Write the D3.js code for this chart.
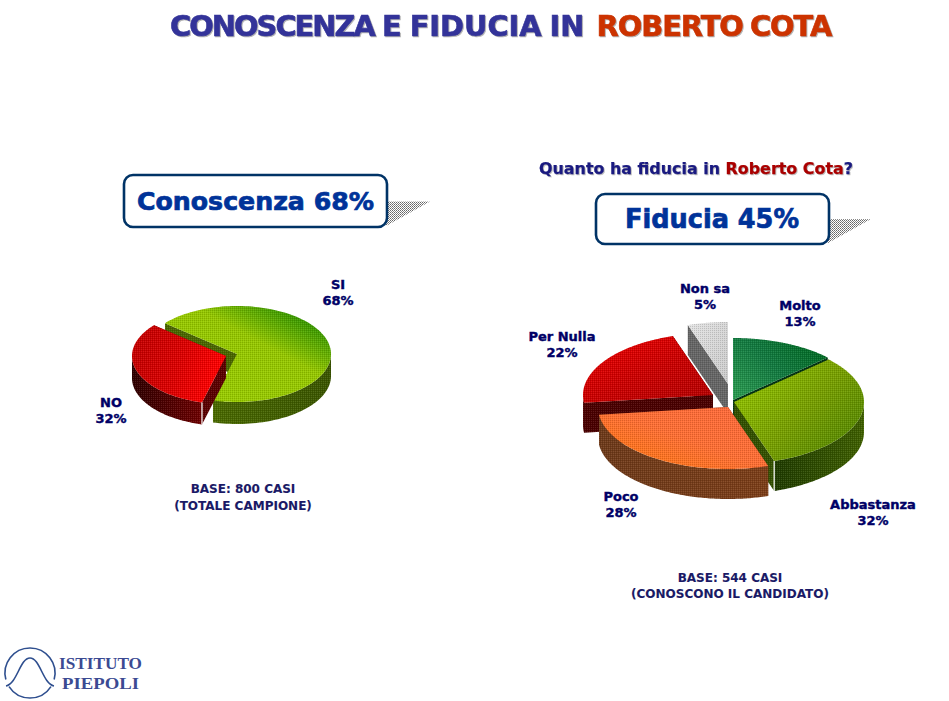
<!DOCTYPE html>
<html><head><meta charset="utf-8">
<script src="https://cdn.jsdelivr.net/npm/d3@7"></script>
<style>
html,body{margin:0;padding:0;background:#fff}
svg{display:block}
text{font-family:"DejaVu Sans",Verdana,sans-serif;font-weight:bold}
</style></head><body>
<svg id="c" width="949" height="701"></svg>
<script>
// ---- data ----
const awarenessCategories = ["SI","NO"];
const awarenessValues = [68,32];
const trustCategories = ["Molto","Abbastanza","Poco","Per Nulla","Non sa"];
const trustValues = [13,32,28,22,5];
const titleParts = ["CONOSCENZA"," E FIDUCIA IN ","ROBERTO COTA"];
const questionParts = ["Quanto ha fiducia in ","Roberto Cota","?"];
const baseLeft = ["BASE: 800 CASI","(TOTALE CAMPIONE)"];
const baseRight = ["BASE: 544 CASI","(CONOSCONO IL CANDIDATO)"];
const logoLines = ["ISTITUTO","PIEPOLI"];

// ---- layout & style (kept apart from the data) ----
const deg = Math.PI/180;
const leftPie = {
  rx:94, ry:48, depth:22, start:310*deg, order:["SI","NO"],
  slices:{
    SI:{cx:237,cy:354,top:["#99cc00","#96c800","#2f9400"],stops:[0,.62,1],grad:[0.2,0.9,0.9,0.15],wall:["#4a6a00","#3a5500"],cut:"#4a6600",lab:[338,284]},
    NO:{cx:226,cy:356,top:["#ff0000","#dd0000","#c80000"],stops:[0,.5,1],grad:[0.95,0.55,0.1,0.3],wall:["#2e0000","#6e0000"],cut:"#5a0000",lab:[111,402],edgeAt:"start"}
  }
};
const rightPie = {
  rx:130, ry:62, depth:30, start:0, order:["Non sa","Molto","Per Nulla","Abbastanza","Poco"],
  slices:{
    "Molto":{cx:733,cy:400,top:["#2a9a50","#127a40","#006a22"],grad:[0,0.9,1,0.2],wall:["#003310","#003310"],cut:"#003310",lab:[800,305]},
    "Abbastanza":{cx:734,cy:402,top:["#8fbf00","#779f00","#558800"],grad:[0.15,0.2,0.95,0.8],wall:["#1f3b00","#3f6000"],cut:"#335000",lab:[873,504],edgeAt:"end"},
    "Poco":{cx:728,cy:407,top:["#ff7711","#ff6f33","#ff6a3a"],grad:[0.1,0.9,0.9,0.1],wall:["#6e3a1a","#7c3e18"],cut:"#5a2a10",lab:[621,496]},
    "Per Nulla":{cx:713,cy:395,top:["#e60000","#cc0000","#b80000"],grad:[0.2,0.1,0.9,0.9],wall:["#650000","#300000"],cut:"#4a0000",lab:[562,336]},
    "Non sa":{cx:728,cy:384,top:["#e4e4e4","#d8d8d8","#cccccc"],grad:[0,0,1,1],wall:["#666","#666"],cut:"#666666",lab:[705,288]}
  }
};
const navy="#000066";

const svg=d3.select("#c");
const defs=svg.append("defs");
const dither=defs.append("pattern").attr("id","dither").attr("width",2).attr("height",2).attr("patternUnits","userSpaceOnUse");
dither.append("rect").attr("width",1).attr("height",1).attr("fill","#000").attr("opacity",.14);
dither.append("rect").attr("x",1).attr("y",1).attr("width",1).attr("height",1).attr("fill","#fff").attr("opacity",.10);
const checker=defs.append("pattern").attr("id","checker").attr("width",2).attr("height",2).attr("patternUnits","userSpaceOnUse");
checker.append("rect").attr("width",2).attr("height",2).attr("fill","#fff");
checker.append("rect").attr("width",1).attr("height",1).attr("fill","#666");
checker.append("rect").attr("x",1).attr("y",1).attr("width",1).attr("height",1).attr("fill","#888");

let gid=0;
function gradient(stops,v,offs){
  const id="g"+(gid++);
  const g=defs.append("linearGradient").attr("id",id)
    .attr("x1",v[0]).attr("y1",v[1]).attr("x2",v[2]).attr("y2",v[3]);
  stops.forEach((c,i)=>g.append("stop").attr("offset",offs?offs[i]:i/(stops.length-1)).attr("stop-color",c));
  return "url(#"+id+")";
}
const lineGen=d3.line();

function drawPie(cats,vals,cfg){
  const pie=d3.pie().sort(null).startAngle(cfg.start).endAngle(cfg.start+2*Math.PI)(vals);
  const byName={};
  pie.forEach((p,i)=>byName[cats[i]]=p);
  const pt=(s,a,dy=0)=>[s.cx+cfg.rx*Math.sin(a), s.cy-cfg.ry*Math.cos(a)+dy];
  cfg.order.forEach(name=>{
    const p=byName[name], s=cfg.slices[name];
    const g=svg.append("g").attr("class","slice");
    const shape=(q,fill)=>{
      g.append("path").attr("d",lineGen(q)+"Z").attr("fill",fill);
      g.append("path").attr("d",lineGen(q)+"Z").attr("fill","url(#dither)");
    };
    [p.startAngle,p.endAngle].forEach(a=>{
      shape([[s.cx,s.cy],pt(s,a),pt(s,a,cfg.depth),[s.cx,s.cy+cfg.depth]],s.cut);
    });
    const n=120;
    const angles=d3.range(n+1).map(i=>p.startAngle+(p.endAngle-p.startAngle)*i/n);
    const front=angles.filter(a=>Math.cos(a)<=0.02);
    if(front.length>1){
      const q=front.map(a=>pt(s,a)).concat(front.slice().reverse().map(a=>pt(s,a,cfg.depth)));
      shape(q,gradient(s.wall,[0,0,1,0]));
    }
    shape([[s.cx,s.cy]].concat(angles.map(a=>pt(s,a))),gradient(s.top,s.grad,s.stops));
    if(s.edgeAt){
      const e=pt(s,s.edgeAt==="start"?p.startAngle:p.endAngle);
      g.append("line").attr("x1",e[0]).attr("y1",e[1]).attr("x2",e[0]).attr("y2",e[1]+cfg.depth)
        .attr("stroke","#fff").attr("stroke-width",1.2);
    }
  });
  cats.forEach((c,i)=>{
    const l=cfg.slices[c].lab;
    label(l[0],l[1],c,13,navy,.4);
    label(l[0],l[1]+16.5,vals[i]+"%",13,navy,.4);
  });
}
function label(x,y,t,size,fill,sw){
  return svg.append("text").attr("x",x).attr("y",y).attr("dy","0.36em").attr("text-anchor","middle")
    .attr("font-size",size).attr("fill",fill).attr("stroke",fill).attr("stroke-width",sw).text(t);
}

// title: one flowing line; glyphs narrowed to the reference width
const title=svg.append("text").attr("x",0).attr("y",0).attr("font-size",28)
  .attr("style","filter:drop-shadow(1.5px 1.5px 0 #b0b0b0)").attr("stroke-width",.6);
const titleCols=["#333399","#333399","#cc3300"];
const spans=titleParts.map((t,i)=>title.append("tspan").attr("fill",titleCols[i]).attr("stroke",titleCols[i]).text(t));
const full=titleParts.join("");
const fi=full.indexOf("FIDUCIA");
const sx=132/title.node().getSubStringLength(fi,7);
const naturalFirst=title.node().getSubStringLength(0,titleParts[0].length);
spans[0].attr("letter-spacing",(204/sx-naturalFirst)/titleParts[0].length);
spans[2].attr("letter-spacing",-1/sx).attr("dx",4/sx);
title.attr("word-spacing",-2/sx);
title.attr("transform",`translate(${170},36) scale(${sx},1)`);

// question
const q=svg.append("text").attr("x",539).attr("y",173.5).attr("font-size",15.5)
  .attr("textLength",314).attr("lengthAdjust","spacingAndGlyphs").attr("stroke-width",.25)
  .attr("style","filter:drop-shadow(1px 1px 0 #bbb)");
q.append("tspan").attr("fill","#1a1a80").attr("stroke","#1a1a80").text(questionParts[0]);
q.append("tspan").attr("fill","#aa0000").attr("stroke","#aa0000").text(questionParts[1]);
q.append("tspan").attr("fill","#1a1a80").attr("stroke","#1a1a80").text(questionParts[2]);

// callouts
function callout(x0,x1,y0,y1,sx,sy,txt,size,tx0,tx1){
  svg.append("path").attr("d",lineGen([[x1-1,sy],[sx,sy],[x1-1,y1-1]])+"Z").attr("fill","url(#checker)");
  svg.append("rect").attr("x",x0).attr("y",y0).attr("width",x1-x0).attr("height",y1-y0)
    .attr("rx",9).attr("fill","#fff").attr("stroke","#003366").attr("stroke-width",2.6);
  svg.append("text").attr("x",tx0).attr("y",(y0+y1)/2).attr("dy","0.36em").attr("font-size",size)
    .attr("textLength",tx1-tx0).attr("lengthAdjust","spacingAndGlyphs")
    .attr("fill","#003399").attr("stroke","#003399").attr("stroke-width",.7).text(txt);
}
callout(124,387,175,227,430,201.5,"Conoscenza "+awarenessValues[0]+"%",24,137,374);
callout(596,829,194,244,871,219,"Fiducia 45%",26,625,799);

drawPie(awarenessCategories,awarenessValues,leftPie);
drawPie(trustCategories,trustValues,rightPie);

// base notes
const noteCol="#1a1a66";
label(243,489,baseLeft[0],12,noteCol,.1);
label(243,506,baseLeft[1],12,noteCol,.1);
label(730,578,baseRight[0],12,noteCol,.1);
label(730,594,baseRight[1],12,noteCol,.1);

// logo
const logo=svg.append("g").attr("fill","none").attr("stroke","#2f4f8f").attr("stroke-width",1.6);
const ring=d3.arc().innerRadius(25).outerRadius(25);
logo.append("path").attr("transform","translate(30,673)").attr("d",ring({startAngle:-105*deg,endAngle:105*deg}));
logo.append("path").attr("transform","translate(30,673)").attr("d",ring({startAngle:123*deg,endAngle:237*deg}));
logo.append("path").attr("d","M6,686C17,684 20,658 30,658C40,658 43,684 54,686");
[["ISTITUTO",59,669,83],["PIEPOLI",62,689,77]].forEach((l,i)=>{
  svg.append("text").attr("x",l[1]).attr("y",l[2]).attr("font-size",17.5)
    .attr("textLength",l[3]).attr("lengthAdjust","spacingAndGlyphs")
    .attr("style","font-family:'Liberation Serif',serif;font-weight:bold").attr("fill","#3b4a92").text(logoLines[i]);
});
</script>
</body></html>
